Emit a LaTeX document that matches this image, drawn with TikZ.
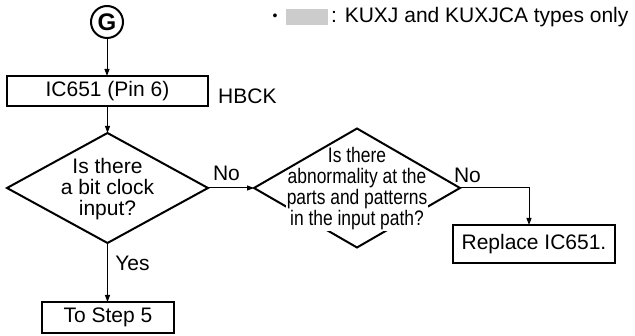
\documentclass[tikz,border=0pt]{standalone}
\usepackage{fontspec}
\setmainfont{Liberation Sans}
\newfontfamily\narrowfont[FakeStretch=0.83]{Liberation Sans}
\usetikzlibrary{shapes.geometric,arrows.meta}
\begin{document}
\begin{tikzpicture}[x=1pt,y=-1pt,
  txt/.style={inner sep=0pt,font=\fontsize{21}{21}\selectfont},
  narrowtxt/.style={inner sep=0pt,font=\narrowfont\fontsize{21}{21}\selectfont},
  box/.style={draw,line width=2.2pt,inner sep=0pt,outer sep=0pt,font=\fontsize{21}{21}\selectfont},
  dia/.style={diamond,draw,line width=2pt,inner sep=0pt,outer sep=0pt},
  arr/.style={-{Triangle[length=7pt,width=5pt]},line width=1pt}]
\useasboundingbox (0,0) rectangle (635,336);

% legend
\node[txt,font=\fontsize{14}{14}\selectfont] (bul) at (275,17) {•};
\node[fill=black!20,minimum width=42pt,minimum height=16pt,inner sep=0pt] (grey) at (307,17.5) {};
\node[txt,anchor=west] (leg) at (331,17.5) {: KUXJ and KUXJCA types only};

% start connector
\node[circle,draw,line width=2pt,minimum size=32pt,inner sep=0pt,outer sep=0pt,
      font=\bfseries\fontsize{24}{24}\selectfont] (g) at (107,22) {G};

\node[box,minimum width=201pt,minimum height=30pt] (ic) at (107.5,91) {IC651 (Pin 6)};
\node[txt,anchor=west] (hbck) at (218,96) {HBCK};

\node[dia,minimum width=201pt,minimum height=110pt] (d1) at (107.5,188) {};
\node[txt,align=center] (t1) at (107.5,189) {Is there\\a bit clock\\input?};

\node[dia,minimum width=206pt,minimum height=119pt] (d2) at (357,188) {};
\node[narrowtxt,align=center] (t2a) at (357,167.5) {Is there\\abnormality at the};
\node[narrowtxt,align=center,fill=white,inner sep=1pt] (t2b) at (357,210) {parts and patterns\\in the input path?};

\node[box,minimum width=162pt,minimum height=38pt] (rep) at (534,244) {Replace IC651.};
\node[box,minimum width=132pt,minimum height=31pt] (s5) at (108,317.5) {To Step 5};

\node[txt] (no1) at (226.5,173) {No};
\node[txt] (no2) at (467.5,175) {No};
\node[txt] (yes) at (132.5,263) {Yes};

\coordinate (c2) at (529,188);

\draw[arr] (g.south) -- (ic.north -| g.south);
\draw[arr] (ic.south -| d1.north) -- (d1.north);
\draw[arr] (d1.east) -- (d2.west);
\draw[arr] (d2.east) -- (c2) -- (c2 |- rep.north);
\draw[arr] (d1.south) -- (d1.south |- s5.north);
\end{tikzpicture}
\end{document}
